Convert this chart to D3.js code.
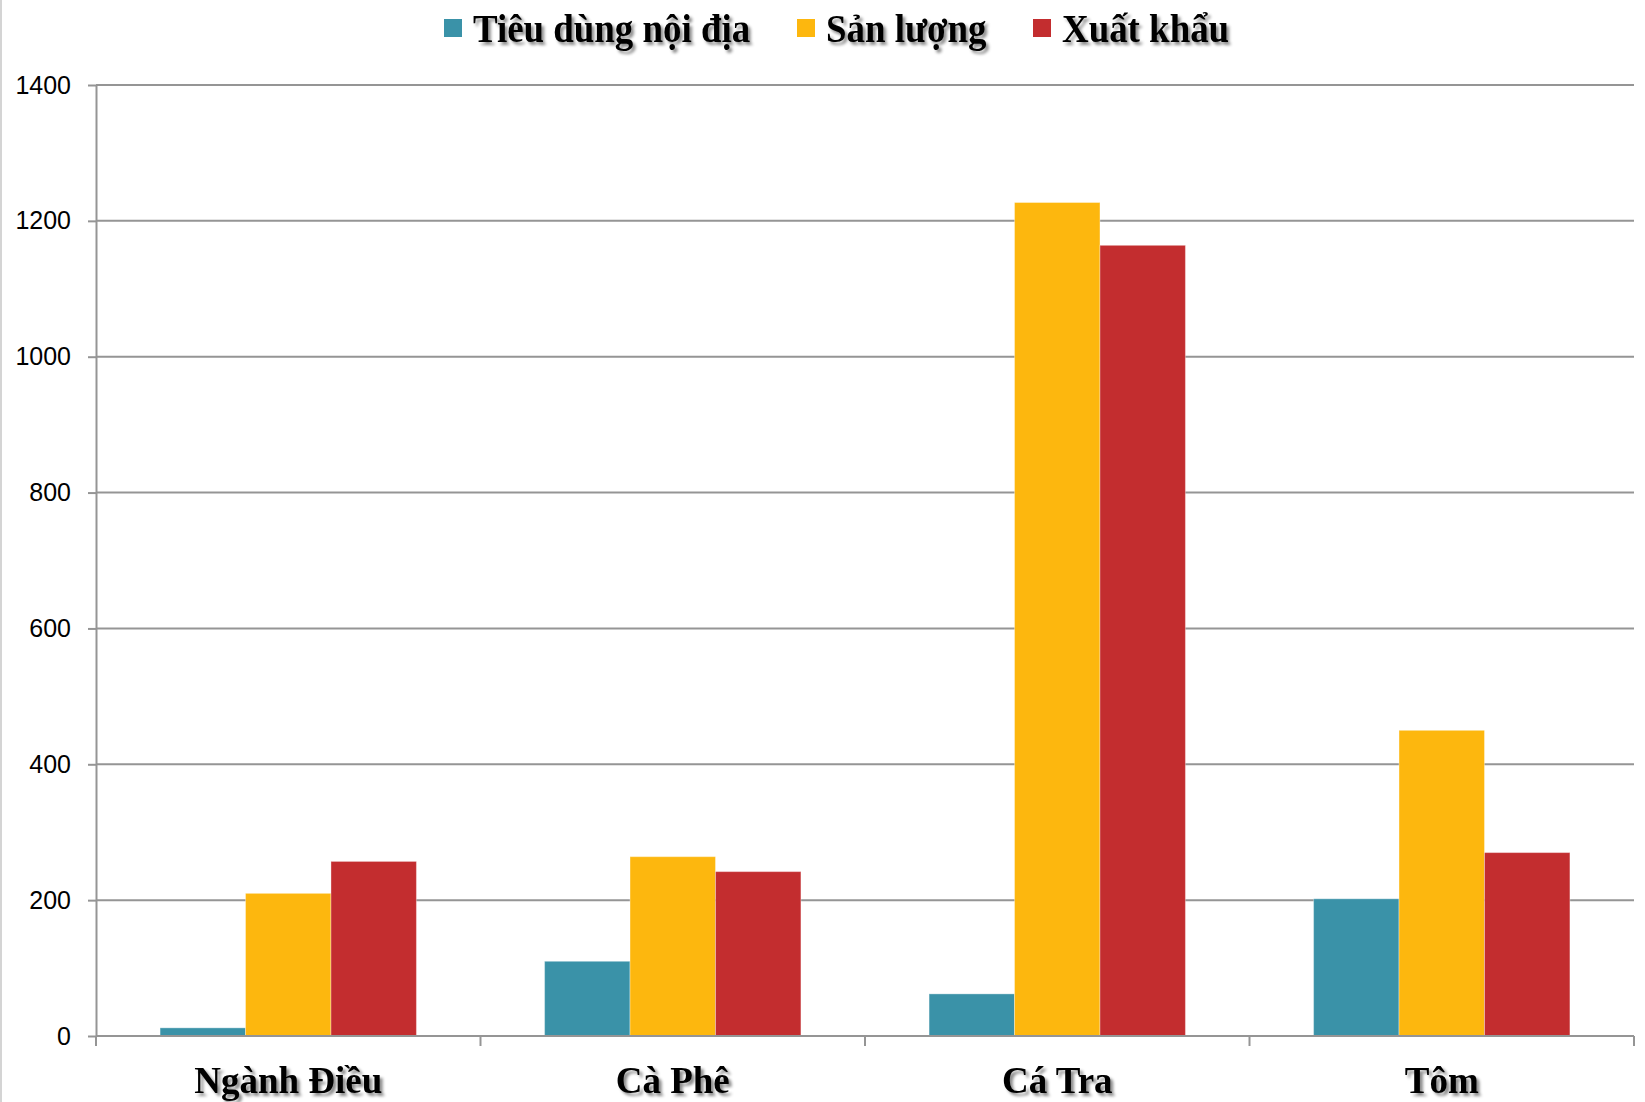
<!DOCTYPE html>
<html>
<head>
<meta charset="utf-8">
<script src="https://cdn.jsdelivr.net/npm/d3@7"></script>
<style>
  html, body { margin: 0; padding: 0; background: #fff; }
  svg { display: block; }
  .serif-label {
    font-family: "Liberation Serif", "Times New Roman", serif;
    font-weight: bold;
    fill: #000;
    filter: url(#textShadow);
  }
  .y-tick text { font-family: "Liberation Sans", Arial, sans-serif; font-size: 25px; fill: #000; }
</style>
</head>
<body>
<script>
// Categories and series (nghìn tấn)
const categories = ["Ngành Điều", "Cà Phê", "Cá Tra", "Tôm"];
const seriesNames = ["Tiêu dùng nội địa", "Sản lượng", "Xuất khẩu"];
const tieuDungNoiDia = [12, 110, 62, 202];
const sanLuong = [210, 264, 1227, 450];
const xuatKhau = [257, 242, 1164, 270];
const yTicks = [0, 200, 400, 600, 800, 1000, 1200, 1400];

const seriesValues = [tieuDungNoiDia, sanLuong, xuatKhau];
const colors = ["#3A92A8", "#FDB70E", "#C32D2F"];

const W = 1645, H = 1102;
const plot = { left: 96, right: 1634, top: 85, bottom: 1036 };

const svg = d3.select("body").append("svg")
  .attr("width", W).attr("height", H);

// soft drop shadow used by the bold serif labels
const defs = svg.append("defs");
const f = defs.append("filter").attr("id", "textShadow")
  .attr("x", "-10%").attr("y", "-30%").attr("width", "130%").attr("height", "170%");
f.append("feDropShadow").attr("dx", 3).attr("dy", 3).attr("stdDeviation", 1.6)
  .attr("flood-color", "#000").attr("flood-opacity", 0.45);

// faint frame line on the left edge
svg.append("line").attr("x1", 1).attr("x2", 1).attr("y1", 0).attr("y2", H)
  .attr("stroke", "#d4d4d4").attr("stroke-width", 2);

const x0 = d3.scaleBand().domain(categories).range([plot.left, plot.right]).padding(0);
const x1 = d3.scaleBand().domain(d3.range(seriesNames.length))
  .range([0, x0.bandwidth()]).paddingInner(0).paddingOuter(0.75);
const y = d3.scaleLinear().domain([0, 1400]).range([plot.bottom, plot.top]);

// horizontal gridlines
svg.append("g").selectAll("line").data(yTicks.filter(d => d > 0)).join("line")
  .attr("x1", plot.left).attr("x2", plot.right)
  .attr("y1", d => y(d)).attr("y2", d => y(d))
  .attr("stroke", "#959595").attr("stroke-width", 2);

// bars
const rows = categories.map((c, i) => ({ c, vals: seriesValues.map((s, k) => ({ k, v: s[i] })) }));
svg.append("g").selectAll("g").data(rows).join("g")
  .attr("transform", d => `translate(${x0(d.c)},0)`)
  .selectAll("rect").data(d => d.vals).join("rect")
  .attr("x", d => x1(d.k))
  .attr("width", x1.bandwidth())
  .attr("y", d => y(d.v))
  .attr("height", d => y(0) - y(d.v))
  .attr("fill", d => colors[d.k])
  .attr("stroke", "rgba(255,255,255,0.35)").attr("stroke-width", 1);

// y axis
const yAxis = svg.append("g").attr("class", "y-tick")
  .attr("transform", `translate(${plot.left},0)`)
  .call(d3.axisLeft(y).tickValues(yTicks).tickFormat(d3.format("d"))
    .tickSize(8).tickSizeOuter(0).tickPadding(17));
yAxis.selectAll("line").attr("stroke", "#959595").attr("stroke-width", 2);
yAxis.select(".domain").attr("stroke", "#959595").attr("stroke-width", 2);

// x axis baseline with ticks at category boundaries
const boundaries = categories.map(c => x0(c)).concat([x0.range()[1]]);
svg.append("line").attr("x1", plot.left).attr("x2", plot.right)
  .attr("y1", y(0)).attr("y2", y(0)).attr("stroke", "#959595").attr("stroke-width", 2);
svg.append("g").selectAll("line").data(boundaries).join("line")
  .attr("x1", d => d).attr("x2", d => d)
  .attr("y1", y(0)).attr("y2", y(0) + 10)
  .attr("stroke", "#959595").attr("stroke-width", 2);

// category labels
svg.append("g").selectAll("text").data(categories).join("text")
  .attr("class", "serif-label")
  .attr("transform", d => `translate(${x0(d) + x0.bandwidth() / 2},1093)`)
  .attr("text-anchor", "middle")
  .attr("font-size", 37)
  .text(d => d);

// legend
const legendX = [444, 797, 1033];
const lg = svg.append("g").selectAll("g").data(seriesNames).join("g")
  .attr("transform", (d, i) => `translate(${legendX[i]},0)`);
lg.append("rect").attr("x", 0).attr("y", 19).attr("width", 18).attr("height", 18)
  .attr("fill", (d, i) => colors[i]);
lg.append("text").attr("class", "serif-label")
  .attr("transform", "translate(29,42) scale(0.9,1)")
  .attr("font-size", 41)
  .text(d => d);
</script>
</body>
</html>
